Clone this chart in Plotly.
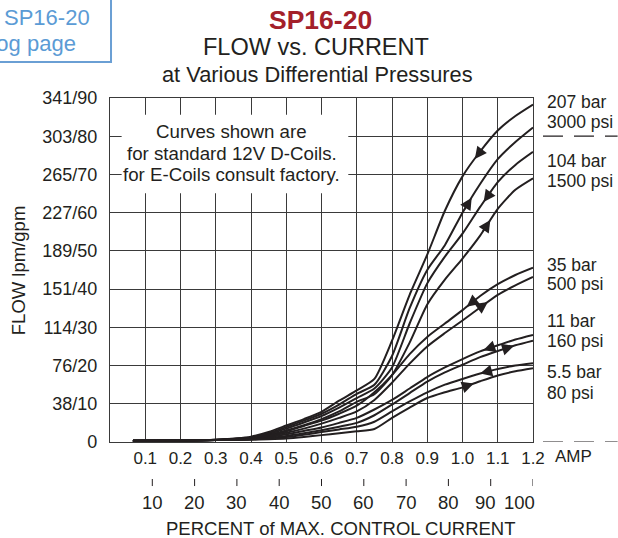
import numpy as np
import plotly.graph_objects as go

# ---------------- data ----------------
amps = [0.065, 0.2, 0.3, 0.4, 0.45, 0.5, 0.55, 0.6, 0.65, 0.7, 0.75, 0.8,
        0.85, 0.9, 0.95, 1.0, 1.05, 1.1, 1.15, 1.2]

flow_207_dec = [0.3, 0.4, 0.6, 1.4, 2.6, 4.3, 6.0, 7.9, 10.8, 13.5, 16.5, 26.5, 38.5, 49.0, 60.5, 69.5, 76.0, 81.5, 85.3, 88.3]
flow_207_inc = [0.3, 0.4, 0.6, 1.2, 2.3, 3.9, 5.6, 7.4, 9.8, 12.6, 15.0, 22.5, 35.0, 45.0, 51.5, 60.0, 67.5, 74.0, 78.5, 82.3]
flow_104_dec = [0.3, 0.4, 0.6, 1.1, 2.1, 3.5, 5.1, 6.8, 9.0, 11.5, 14.0, 19.5, 31.0, 41.5, 48.5, 54.5, 61.5, 68.0, 72.5, 75.9]
flow_104_inc = [0.3, 0.4, 0.5, 1.0, 1.8, 3.0, 4.4, 6.0, 8.0, 10.5, 12.5, 17.5, 26.0, 36.0, 42.5, 48.0, 54.0, 61.0, 66.0, 69.0]
flow_35_dec = [0.3, 0.4, 0.5, 1.0, 1.7, 2.8, 4.2, 5.6, 7.4, 9.5, 13.0, 17.5, 23.0, 27.5, 31.0, 34.5, 38.2, 41.3, 43.7, 45.6]
flow_35_inc = [0.3, 0.4, 0.5, 0.9, 1.5, 2.4, 3.5, 4.8, 6.3, 8.0, 11.0, 15.5, 20.5, 25.0, 28.5, 31.8, 35.2, 38.5, 41.0, 43.2]
flow_11_dec = [0.3, 0.4, 0.5, 0.8, 1.3, 2.0, 2.9, 3.8, 5.0, 6.3, 8.5, 11.0, 14.0, 17.0, 19.5, 21.7, 23.7, 25.3, 26.8, 28.0]
flow_11_inc = [0.3, 0.4, 0.5, 0.7, 1.1, 1.6, 2.3, 3.1, 4.0, 5.0, 7.0, 9.8, 12.8, 15.8, 18.2, 20.2, 22.2, 23.8, 25.3, 26.5]
flow_5_dec = [0.3, 0.4, 0.5, 0.7, 0.9, 1.3, 1.9, 2.6, 3.3, 4.0, 5.3, 8.0, 10.6, 13.0, 15.0, 16.5, 17.9, 19.1, 20.0, 20.6]
flow_5_inc = [0.3, 0.4, 0.5, 0.6, 0.7, 0.9, 1.3, 1.8, 2.3, 2.8, 3.4, 6.3, 9.0, 11.5, 13.0, 14.3, 15.9, 17.4, 18.5, 19.3]

curves = [flow_207_dec, flow_207_inc, flow_104_dec, flow_104_inc, flow_35_dec,
          flow_35_inc, flow_11_dec, flow_11_inc, flow_5_dec, flow_5_inc]
# arrow location (amp) and direction (+1 rising current, -1 falling current)
arrow_amps = [1.045, 1.016, 1.07, 1.069, 1.022, 1.062, 1.069, 1.136, 1.06, 1.022]
arrow_dirs = [-1, 1, -1, 1, -1, 1, -1, 1, -1, 1]

y_tickvals = [0, 10, 20, 30, 40, 50, 60, 70, 80, 90]
y_ticktext = ["0", "38/10", "76/20", "114/30", "151/40", "189/50", "227/60", "265/70", "303/80", "341/90"]
x_tickvals = [0.1, 0.2, 0.3, 0.4, 0.5, 0.6, 0.7, 0.8, 0.9, 1.0, 1.1, 1.2]
x_ticktext = ["0.1", "0.2", "0.3", "0.4", "0.5", "0.6", "0.7", "0.8", "0.9", "1.0", "1.1", "1.2"]
percent_labels = [10, 20, 30, 40, 50, 60, 70, 80, 90, 100]
max_amp = 1.2

pressure_labels = ["207 bar", "3000 psi", "104 bar", "1500 psi", "35 bar", "500 psi",
                   "11 bar", "160 psi", "5.5 bar", "80 psi"]
note_lines = ["Curves shown are", "for standard 12V D-Coils.", "for E-Coils consult factory."]

# ---------------- layout helpers (positions / styles) ----------------
pressure_label_y = [88.9, 83.6, 73.6, 68.3, 46.2, 41.3, 31.7, 26.4, 18.3, 12.95]
note_y = [81.2, 75.5, 69.9]
percent_xshift = {90: -5, 100: -14}

FONT = "Liberation Sans, Arial, sans-serif"
INK = "#231f20"
fig = go.Figure()

for ys in curves:
    fig.add_trace(go.Scatter(x=amps, y=ys, mode="lines",
                             line=dict(color=INK, width=2, shape="spline", smoothing=0.6),
                             hoverinfo="skip", showlegend=False))

ann = []
for ys, a, d in zip(curves, arrow_amps, arrow_dirs):
    tip = a + d * 0.01
    tail = a - d * 0.014
    ann.append(dict(x=tip, y=float(np.interp(tip, amps, ys)),
                    ax=tail, ay=float(np.interp(tail, amps, ys)),
                    xref="x", yref="y", axref="x", ayref="y", text="",
                    showarrow=True, arrowhead=2, arrowsize=1.5, arrowwidth=1.6,
                    arrowcolor=INK))

# titles
ann.append(dict(text="<b>SP16-20</b>", x=0.4965, y=1.2253, xref="paper", yref="paper",
                showarrow=False, font=dict(size=26.5, color="#a3202a", family=FONT),
                xanchor="center", yanchor="middle"))
ann.append(dict(text="FLOW vs. CURRENT", x=0.488, y=1.148, xref="paper", yref="paper",
                showarrow=False, font=dict(size=23.5, color=INK, family=FONT),
                xanchor="center", yanchor="middle"))
ann.append(dict(text="at Various Differential Pressures", x=0.4917, y=1.0669, xref="paper", yref="paper",
                showarrow=False, font=dict(size=21.8, color=INK, family=FONT),
                xanchor="center", yanchor="middle"))

# note box text
for t, yy in zip(note_lines, note_y):
    ann.append(dict(text=t, x=0.345, y=yy, xref="x", yref="y", showarrow=False,
                    font=dict(size=18.7, color=INK, family=FONT), xanchor="center", yanchor="middle"))

# right-side pressure labels
for t, yy in zip(pressure_labels, pressure_label_y):
    ann.append(dict(text=t, x=1.0284, y=yy, xref="paper", yref="y", showarrow=False,
                    font=dict(size=17.5, color=INK, family=FONT), xanchor="left", yanchor="middle"))

# AMP label
ann.append(dict(text="AMP", x=1.047, y=-0.041, xref="paper", yref="paper", showarrow=False,
                font=dict(size=17, color=INK, family=FONT), xanchor="left", yanchor="middle"))
# percent labels
for p in percent_labels:
    ann.append(dict(text=str(p), x=max_amp * p / 100, y=-0.176, xref="x", yref="paper",
                    xshift=percent_xshift.get(p, 0),
                    showarrow=False, font=dict(size=18.5, color=INK, family=FONT),
                    xanchor="center", yanchor="middle"))
ann.append(dict(text="PERCENT of MAX. CONTROL CURRENT", x=0.655, y=-0.252, xref="x", yref="paper",
                showarrow=False, font=dict(size=18.5, color=INK, family=FONT),
                xanchor="center", yanchor="middle"))
# y title
ann.append(dict(text="FLOW lpm/gpm", x=-0.217, y=0.5, xref="paper", yref="paper", textangle=-90,
                showarrow=False, font=dict(size=18.5, color=INK, family=FONT),
                xanchor="center", yanchor="middle"))
# catalog link box text
ann.append(dict(text="SP16-20", x=-0.0425, y=1.2326, xref="paper", yref="paper", showarrow=False,
                font=dict(size=22, color="#5b9bd5", family=FONT), xanchor="right", yanchor="middle"))
ann.append(dict(text="Catalog page", x=-0.0757, y=1.157, xref="paper", yref="paper", showarrow=False,
                font=dict(size=22, color="#5b9bd5", family=FONT), xanchor="right", yanchor="middle"))

shapes = []
# white note box
shapes.append(dict(type="rect", x0=0.033, x1=0.676, y0=65.1, y1=85.6, xref="x", yref="y",
                   fillcolor="white", line=dict(width=0), layer="above"))
# percent tick marks
for p in percent_labels:
    shapes.append(dict(type="line", x0=max_amp * p / 100, x1=max_amp * p / 100, y0=-0.1076, y1=-0.128,
                       xref="x", yref="paper", line=dict(color=INK, width=1)))
# dashed extensions on the right
for yy in [80, 0]:
    shapes.append(dict(type="line", x0=1.0236, x1=1.2, y0=yy, y1=yy, xref="paper", yref="y",
                       line=dict(color=INK, width=1.2, dash="20px,11px")))
# catalog box
shapes.append(dict(type="rect", x0=-0.3, x1=0.0024, y0=1.1047, y1=1.35, xref="paper", yref="paper",
                   fillcolor="rgba(0,0,0,0)", line=dict(color="#6a9fd4", width=2)))

fig.update_layout(
    width=618, height=538,
    margin=dict(l=110, r=85, t=98, b=96),
    paper_bgcolor="white", plot_bgcolor="white",
    font=dict(family=FONT, color=INK, size=17),
    annotations=ann, shapes=shapes,
    xaxis=dict(range=[0, 1.2], tickvals=x_tickvals, ticktext=x_ticktext, showgrid=True,
               gridcolor="#3a3a3a", gridwidth=1.2, showline=True, linecolor="#3a3a3a", linewidth=1.2,
               mirror=True, zeroline=False, ticks="", ticklabelstandoff=0,
               tickfont=dict(size=17, color=INK)),
    yaxis=dict(range=[0, 90], tickvals=y_tickvals, ticktext=y_ticktext, showgrid=True,
               gridcolor="#3a3a3a", gridwidth=1.2, showline=True, linecolor="#3a3a3a", linewidth=1.2,
               mirror=True, zeroline=False, ticks="", ticklabelstandoff=8,
               tickfont=dict(size=18, color=INK)),
)

fig.write_html("out.html", config={"displayModeBar": False},
               post_script="document.body.style.margin='0';")
